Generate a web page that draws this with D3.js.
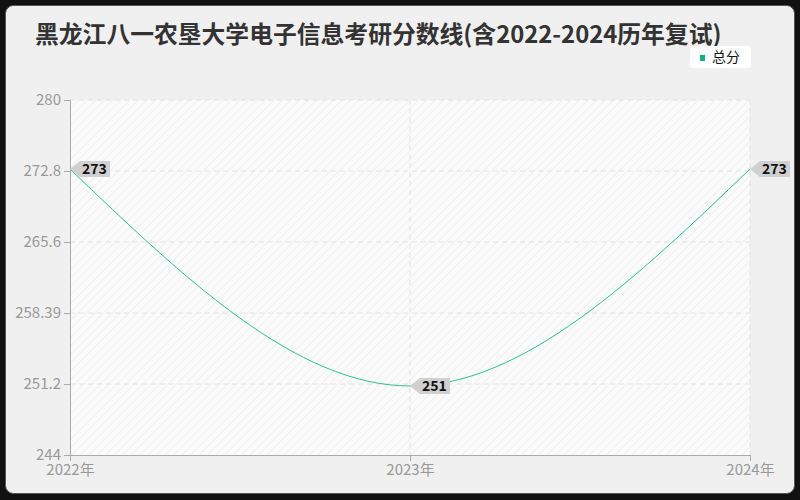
<!DOCTYPE html>
<html><head><meta charset="utf-8">
<script src="https://cdn.jsdelivr.net/npm/d3@7"></script>
<style>html,body{margin:0;padding:0;background:#111;}svg{display:block;}</style>
</head><body>
<svg id="c" width="800" height="500"></svg>
<script>
const titleText = "黑龙江八一农垦大学电子信息考研分数线(含2022-2024历年复试)";
const seriesName = "总分";
const years = ["2022年", "2023年", "2024年"];
const scores = [273, 251, 273];
const yTicks = [244, 251.2, 258.39, 265.6, 272.8, 280];

const svg = d3.select("#c");
const font = "'Noto Sans CJK SC','Noto Sans',sans-serif";
const M = {l:70, r:750, t:100, b:455};
const color = "#2bc193";

svg.append("rect").attr("x",0).attr("y",0).attr("width",800).attr("height",500).attr("fill","#111");
svg.append("rect").attr("x",5.5).attr("y",5.5).attr("width",789).attr("height",488).attr("rx",8)
  .attr("fill","#f0f0f0").attr("stroke","#555").attr("stroke-width",1);

const defs = svg.append("defs");
const pat = defs.append("pattern").attr("id","hatch").attr("patternUnits","userSpaceOnUse")
  .attr("width",6).attr("height",6).attr("patternTransform","rotate(45)");
pat.append("rect").attr("width",6).attr("height",6).attr("fill","#fbfbfb");
pat.append("line").attr("x1",0).attr("y1",0).attr("x2",0).attr("y2",6).attr("stroke","#ececec").attr("stroke-width",1.5);

const x = d3.scalePoint().domain(years).range([M.l, M.r]);
const y = d3.scaleLinear().domain([244, 280]).range([M.b, M.t]);

svg.append("rect").attr("x",M.l).attr("y",M.t).attr("width",M.r-M.l).attr("height",M.b-M.t).attr("fill","url(#hatch)");

// grid
svg.append("g").selectAll("line").data(yTicks.slice(1)).join("line")
  .attr("x1",M.l).attr("x2",M.r).attr("y1",d=>y(d)).attr("y2",d=>y(d))
  .attr("stroke","#e2e2e2").attr("stroke-dasharray","5,4");
svg.append("g").selectAll("line").data(years.slice(1)).join("line")
  .attr("x1",d=>x(d)).attr("x2",d=>x(d)).attr("y1",M.t).attr("y2",M.b)
  .attr("stroke","#e2e2e2").attr("stroke-dasharray","5,4");

// axes
const yAxis = d3.axisLeft(y).tickValues(yTicks).tickSize(6).tickPadding(3).tickFormat(d=>String(d));
const gy = svg.append("g").attr("transform",`translate(${M.l},0)`).call(yAxis);
const xAxis = d3.axisBottom(x).tickSize(6).tickPadding(3);
const gx = svg.append("g").attr("transform",`translate(0,${M.b})`).call(xAxis);
[gy,gx].forEach(g=>{
  g.select(".domain").attr("stroke","#aaa");
  g.selectAll(".tick line").attr("stroke","#aaa");
  g.selectAll("text").attr("fill","#999").style("font-family",font).style("font-size","15px");
});
gy.selectAll(".tick text").attr("dy","0.28em");

// line
const line = d3.line().x((d,i)=>x(years[i])).y(d=>y(d)).curve(d3.curveMonotoneX);
svg.append("path").datum(scores).attr("d",line).attr("fill","none").attr("stroke",color).attr("stroke-width",1);

// labels
const lab = svg.append("g").selectAll("g").data(scores).join("g")
  .attr("transform",(d,i)=>`translate(${x(years[i])},${y(d)})`);
lab.append("path").attr("d","M0,0 L10,-8 L40,-8 L40,8 L10,8 Z").attr("fill","#d0d0d0");
lab.append("text").attr("x",12).attr("y",5).text(d=>d)
  .style("font-family",font).style("font-size","14px").style("font-weight","bold").attr("fill","#111");

// title
svg.append("text").attr("x",35).attr("y",43).text(titleText)
  .style("font-family",font).style("font-size","23.8px").style("font-weight","bold").attr("fill","#333");

// legend
svg.append("rect").attr("x",690).attr("y",46).attr("width",61).attr("height",22).attr("rx",4).attr("fill","#fff");
svg.append("rect").attr("x",700).attr("y",55).attr("width",5).attr("height",6).attr("fill","#1aaf7f");
svg.append("text").attr("x",712).attr("y",62).text(seriesName)
  .style("font-family",font).style("font-size","14px").attr("fill","#111");
</script>
</body></html>
